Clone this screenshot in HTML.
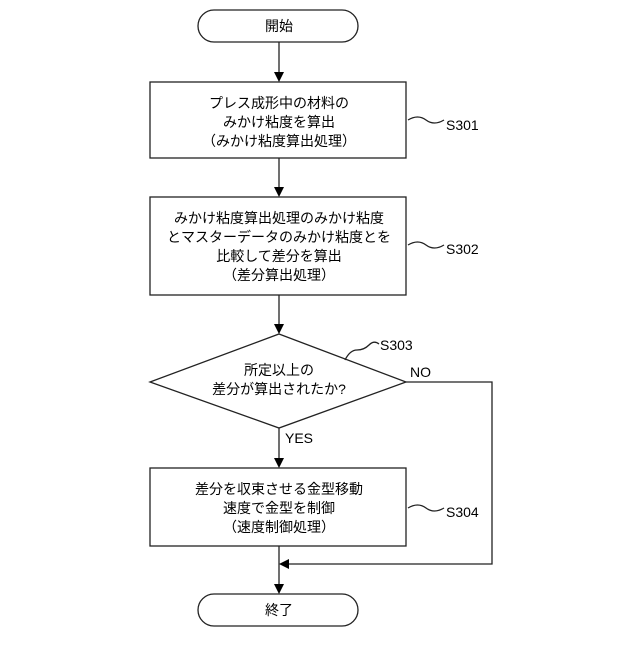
<!DOCTYPE html><html><head><meta charset="utf-8"><style>body{margin:0;background:#fff}</style></head><body>
<svg width="640" height="640" viewBox="0 0 640 640" xmlns="http://www.w3.org/2000/svg" font-family="Liberation Sans, Noto Sans CJK JP, sans-serif" font-size="14" fill="#000">
<defs><marker id="a" markerWidth="10" markerHeight="12" refX="5" refY="12" orient="auto-start-reverse" markerUnits="userSpaceOnUse"><path d="M0,0 L10,0 L5,12 Z" fill="#000" transform="rotate(-90 5 6) translate(0 0)"/></marker></defs>
<g stroke="#222" stroke-width="1.3" fill="none">
<rect x="198" y="10" width="160" height="32" rx="16"/>
<rect x="150" y="82" width="256" height="76"/>
<rect x="150" y="197" width="256" height="98"/>
<polygon points="279,334 406,382 279,428 150,382"/>
<rect x="150" y="468" width="256" height="78"/>
<rect x="198" y="594" width="160" height="32" rx="16"/>
<line x1="279" y1="42" x2="279" y2="72"/>
<line x1="279" y1="158" x2="279" y2="187"/>
<line x1="279" y1="295" x2="279" y2="324"/>
<line x1="279" y1="428" x2="279" y2="458"/>
<line x1="279" y1="546" x2="279" y2="584"/>
<polyline points="406,382 492,382 492,564 289,564"/>
<path d="M408,120 q10,-6 18,0 t18,0"/>
<path d="M408,245 q10,-6 18,0 t18,0"/>
<path d="M408,508 q10,-6 18,0 t18,0"/>
<path d="M345,360 q5,-10 12,-10 t12,-5 t10,-1"/>
</g>
<g fill="#000">
<path d="M274,72 L284,72 L279,82 Z"/>
<path d="M274,187 L284,187 L279,197 Z"/>
<path d="M274,324 L284,324 L279,334 Z"/>
<path d="M274,458 L284,458 L279,468 Z"/>
<path d="M274,584 L284,584 L279,594 Z"/>
<path d="M289,559 L289,569 L279,564 Z"/>
</g>
<g text-anchor="middle">
<text x="279" y="31">開始</text>
<text x="279" y="108">プレス成形中の材料の</text>
<text x="279" y="127">みかけ粘度を算出</text>
<text x="279" y="146">（みかけ粘度算出処理）</text>
<text x="279" y="223">みかけ粘度算出処理のみかけ粘度</text>
<text x="279" y="242">とマスターデータのみかけ粘度とを</text>
<text x="279" y="261">比較して差分を算出</text>
<text x="279" y="280">（差分算出処理）</text>
<text x="279" y="375">所定以上の</text>
<text x="279" y="394">差分が算出されたか?</text>
<text x="279" y="494">差分を収束させる金型移動</text>
<text x="279" y="513">速度で金型を制御</text>
<text x="279" y="532">（速度制御処理）</text>
<text x="279" y="615">終了</text>
</g>
<text x="446" y="130">S301</text>
<text x="446" y="254">S302</text>
<text x="380" y="350">S303</text>
<text x="446" y="517">S304</text>
<text x="410" y="377">NO</text>
<text x="285" y="443">YES</text>
</svg></body></html>
